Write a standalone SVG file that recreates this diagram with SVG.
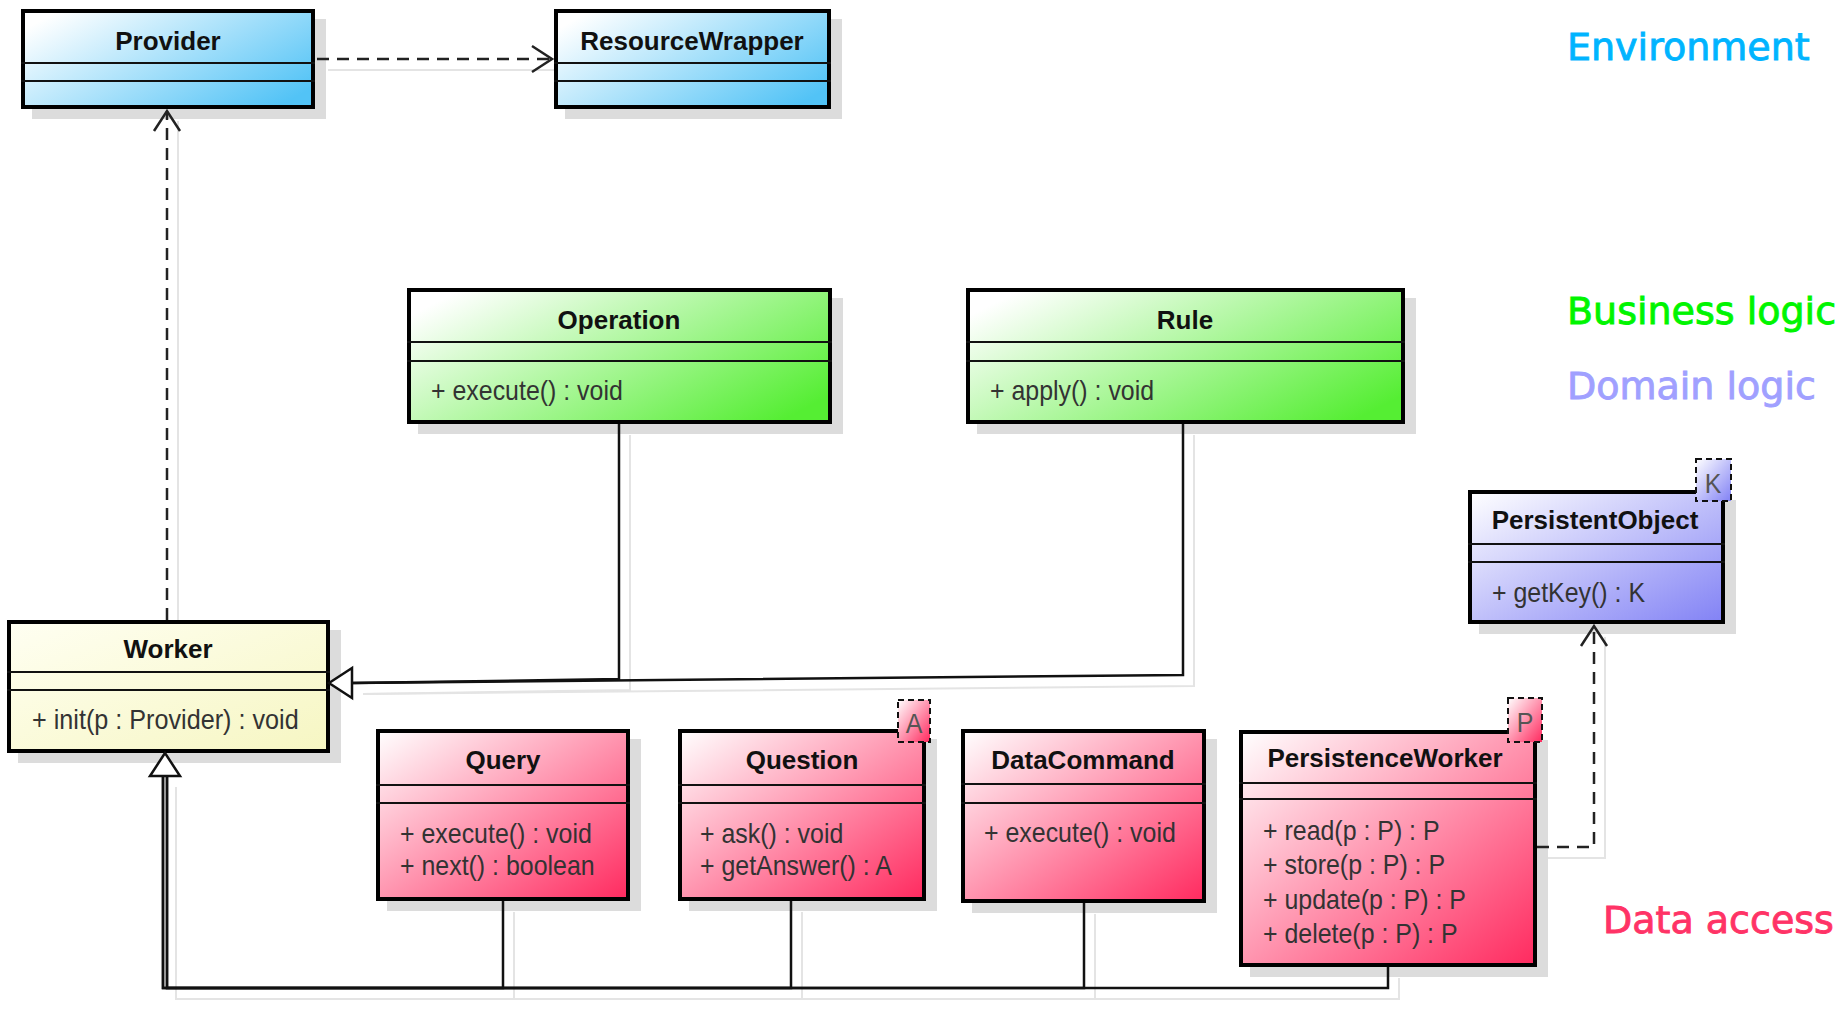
<svg xmlns="http://www.w3.org/2000/svg" width="1845" height="1009" viewBox="0 0 1845 1009">
<style>
.box{stroke:#000;stroke-width:4}
.shadow{fill:#dcdcdc}
.sep{stroke:#111;stroke-width:2}
.cn{font-family:"Liberation Sans",Arial,sans-serif;font-weight:bold;font-size:26px;fill:#111;text-anchor:middle}
.m{font-family:"Liberation Sans",Arial,sans-serif;font-size:28px;fill:#333}
.tp{stroke:#111;stroke-width:2;stroke-dasharray:6 4}
.tpl{font-family:"Liberation Sans",Arial,sans-serif;font-size:28px;fill:#555;text-anchor:middle}
.gen{fill:none;stroke:#111;stroke-width:2.5}
.tri{fill:#fff;stroke:#111;stroke-width:2.5;stroke-linejoin:miter}
.dep{fill:none;stroke:#222;stroke-width:2.5;stroke-dasharray:12 8}
.sh{fill:none;stroke:#e4e4e4;stroke-width:2}
.lbl{font-family:"DejaVu Sans",Verdana,sans-serif;font-size:38px;stroke-width:0.9}
</style>
<defs>
<linearGradient id="gBlue" x1="0" y1="0.2" x2="1" y2="0.8"><stop offset="0" stop-color="#ffffff"/><stop offset="1" stop-color="#52c3f6"/></linearGradient>
<linearGradient id="gGreen" x1="0" y1="0.2" x2="1" y2="0.8"><stop offset="0" stop-color="#ffffff"/><stop offset="1" stop-color="#55ee33"/></linearGradient>
<linearGradient id="gYellow" x1="0" y1="0" x2="1" y2="1"><stop offset="0" stop-color="#fffff2"/><stop offset="1" stop-color="#f6f6c2"/></linearGradient>
<linearGradient id="gRed" x1="0" y1="0" x2="1" y2="1"><stop offset="0" stop-color="#ffffff"/><stop offset="1" stop-color="#ff2a5f"/></linearGradient>
<linearGradient id="gLav" x1="0" y1="0" x2="1" y2="1"><stop offset="0" stop-color="#ffffff"/><stop offset="1" stop-color="#8282f5"/></linearGradient>
<marker id="open" markerUnits="userSpaceOnUse" viewBox="-24 -16 28 32" refX="0" refY="0" markerWidth="28" markerHeight="32" orient="auto" overflow="visible">
<path d="M-20,-13 L0,0 L-20,13" fill="none" stroke="#222" stroke-width="2.5" stroke-dasharray="none"/>
</marker>
</defs>
<rect width="1845" height="1009" fill="#fff"/>

<g id="connector-shadows">
<path class="sh" d="M328,70 H564"/>
<path class="sh" d="M178,620 V121"/>
<path class="sh" d="M630,435 V690 L363,694"/>
<path class="sh" d="M1194,435 V686 L363,694"/>
<path class="sh" d="M176,787 V999 H1399 V978"/>
<path class="sh" d="M514,912 V999 M802,912 V999 M1095,914 V999"/>
<path class="sh" d="M1548,858 H1605 V637"/>
</g>

<g id="provider">
<rect class="shadow" x="32" y="19" width="294" height="100"/>
<rect class="box" x="23" y="11" width="290" height="96" fill="url(#gBlue)"/>
<line class="sep" x1="21" y1="63" x2="315" y2="63"/>
<line class="sep" x1="21" y1="81" x2="315" y2="81"/>
<text class="cn" x="168" y="50">Provider</text>
</g>

<g id="resourcewrapper">
<rect class="shadow" x="565" y="19" width="277" height="100"/>
<rect class="box" x="556" y="11" width="273" height="96" fill="url(#gBlue)"/>
<line class="sep" x1="554" y1="63" x2="831" y2="63"/>
<line class="sep" x1="554" y1="81" x2="831" y2="81"/>
<text class="cn" x="692" y="50">ResourceWrapper</text>
</g>

<g id="operation">
<rect class="shadow" x="418" y="298" width="425" height="136"/>
<rect class="box" x="409" y="290" width="421" height="132" fill="url(#gGreen)"/>
<line class="sep" x1="407" y1="342" x2="832" y2="342"/>
<line class="sep" x1="407" y1="361" x2="832" y2="361"/>
<text class="cn" x="619" y="329">Operation</text>
<text class="m" transform="translate(431,400) scale(0.89,1)">+ execute() : void</text>
</g>

<g id="rule">
<rect class="shadow" x="977" y="298" width="439" height="136"/>
<rect class="box" x="968" y="290" width="435" height="132" fill="url(#gGreen)"/>
<line class="sep" x1="966" y1="342" x2="1405" y2="342"/>
<line class="sep" x1="966" y1="361" x2="1405" y2="361"/>
<text class="cn" x="1185" y="329">Rule</text>
<text class="m" transform="translate(990,400) scale(0.89,1)">+ apply() : void</text>
</g>

<g id="worker">
<rect class="shadow" x="18" y="630" width="323" height="133"/>
<rect class="box" x="9" y="622" width="319" height="129" fill="url(#gYellow)"/>
<line class="sep" x1="7" y1="672" x2="330" y2="672"/>
<line class="sep" x1="7" y1="690" x2="330" y2="690"/>
<text class="cn" x="168" y="658">Worker</text>
<text class="m" transform="translate(32,729) scale(0.9,1)">+ init(p : Provider) : void</text>
</g>

<g id="query">
<rect class="shadow" x="387" y="739" width="254" height="172"/>
<rect class="box" x="378" y="731" width="250" height="168" fill="url(#gRed)"/>
<line class="sep" x1="376" y1="785" x2="630" y2="785"/>
<line class="sep" x1="376" y1="803" x2="630" y2="803"/>
<text class="cn" x="503" y="769">Query</text>
<text class="m" transform="translate(400,843) scale(0.89,1)">+ execute() : void</text>
<text class="m" transform="translate(400,875) scale(0.89,1)">+ next() : boolean</text>
</g>

<g id="question">
<rect class="shadow" x="689" y="739" width="248" height="172"/>
<rect class="box" x="680" y="731" width="244" height="168" fill="url(#gRed)"/>
<line class="sep" x1="678" y1="785" x2="926" y2="785"/>
<line class="sep" x1="678" y1="803" x2="926" y2="803"/>
<text class="cn" x="802" y="769">Question</text>
<text class="m" transform="translate(700,843) scale(0.89,1)">+ ask() : void</text>
<text class="m" transform="translate(700,875) scale(0.89,1)">+ getAnswer() : A</text>
<rect class="tp" x="898" y="700" width="32" height="42" fill="url(#gRed)"/>
<text class="tpl" transform="translate(914,733) scale(0.89,1)">A</text>
</g>

<g id="datacommand">
<rect class="shadow" x="972" y="739" width="245" height="174"/>
<rect class="box" x="963" y="731" width="241" height="170" fill="url(#gRed)"/>
<line class="sep" x1="961" y1="784" x2="1206" y2="784"/>
<line class="sep" x1="961" y1="803" x2="1206" y2="803"/>
<text class="cn" x="1083" y="769">DataCommand</text>
<text class="m" transform="translate(984,842) scale(0.89,1)">+ execute() : void</text>
</g>

<g id="persistenceworker">
<rect class="shadow" x="1250" y="740" width="298" height="237"/>
<rect class="box" x="1241" y="732" width="294" height="233" fill="url(#gRed)"/>
<line class="sep" x1="1239" y1="783" x2="1537" y2="783"/>
<line class="sep" x1="1239" y1="799" x2="1537" y2="799"/>
<text class="cn" x="1385" y="767">PersistenceWorker</text>
<text class="m" transform="translate(1263,840) scale(0.89,1)">+ read(p : P) : P</text>
<text class="m" transform="translate(1263,874) scale(0.89,1)">+ store(p : P) : P</text>
<text class="m" transform="translate(1263,909) scale(0.89,1)">+ update(p : P) : P</text>
<text class="m" transform="translate(1263,943) scale(0.89,1)">+ delete(p : P) : P</text>
<rect class="tp" x="1508" y="698" width="34" height="44" fill="url(#gRed)"/>
<text class="tpl" transform="translate(1525,732) scale(0.89,1)">P</text>
</g>

<g id="persistentobject">
<rect class="shadow" x="1479" y="500" width="257" height="134"/>
<rect class="box" x="1470" y="492" width="253" height="130" fill="url(#gLav)"/>
<line class="sep" x1="1468" y1="544" x2="1725" y2="544"/>
<line class="sep" x1="1468" y1="562" x2="1725" y2="562"/>
<text class="cn" x="1595" y="529">PersistentObject</text>
<text class="m" transform="translate(1492,602) scale(0.89,1)">+ getKey() : K</text>
<rect class="tp" x="1696" y="459" width="35" height="42" fill="url(#gLav)"/>
<text class="tpl" transform="translate(1713,493) scale(0.89,1)">K</text>
</g>

<g id="connectors">
<path class="dep" d="M317,59 H552" marker-end="url(#open)"/>
<path class="dep" d="M167,620 V111" marker-end="url(#open)"/>
<path class="dep" d="M1537,847 H1594 V626" marker-end="url(#open)"/>
<path class="gen" d="M619,424 V679 L352,683"/>
<path class="gen" d="M1183,424 V675 L352,683"/>
<path class="tri" d="M329,683 L352,668 L352,698 Z"/>
<path class="gen" d="M503,901 V988 H163 V776"/>
<path class="gen" d="M791,901 V988 H163 V776"/>
<path class="gen" d="M1084,903 V988 H167 V776"/>
<path class="gen" d="M1388,967 V988 H167 V776"/>
<path class="tri" d="M165,753 L150,776 L180,776 Z"/>
</g>

<g id="layer-labels">
<text class="lbl" x="1567" y="60" fill="#00b4ff" stroke="#00b4ff">Environment</text>
<text class="lbl" x="1567" y="324" fill="#00f500" stroke="#00f500">Business logic</text>
<text class="lbl" x="1567" y="399" fill="#a0a0ff" stroke="#a0a0ff">Domain logic</text>
<text class="lbl" x="1603" y="933" fill="#ff3366" stroke="#ff3366">Data access</text>
</g>
</svg>
